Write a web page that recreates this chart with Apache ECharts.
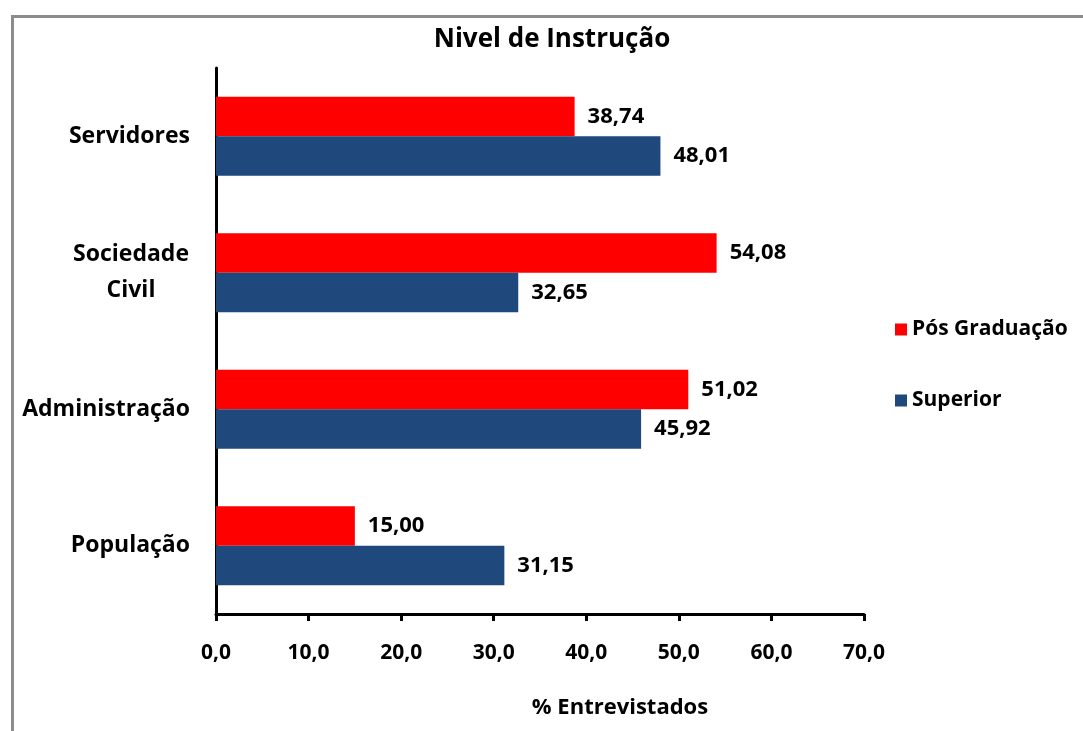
<!DOCTYPE html>
<html>
<head>
<meta charset="utf-8">
<script src="https://cdn.jsdelivr.net/npm/echarts@6/dist/echarts.min.js"></script>
<style>html,body{margin:0;padding:0;background:#fff}#c{width:1083px;height:731px}</style>
</head>
<body>
<div id="c"></div>
<script>
var categories = ['População', 'Administração', 'Sociedade Civil', 'Servidores'];
var seriesNames = ['Pós Graduação', 'Superior'];
var posGraduacao = [15.00, 51.02, 54.08, 38.74];
var superior = [31.15, 45.92, 32.65, 48.01];
var xTicks = [0, 10, 20, 30, 40, 50, 60, 70];

var FONT = 'Open Sans';
var chart = echarts.init(document.getElementById('c'));
function fmt(v){ return Number(v).toFixed(2).replace('.', ','); }
chart.setOption({
  animation: false,
  textStyle: { fontFamily: FONT },
  title: [
    { text: 'Nivel de Instrução', left: 547, top: 22, textAlign: 'center',
      textStyle: { fontFamily: FONT, fontWeight: 'bold', fontSize: 26, color: '#000' } },
    { text: '% Entrevistados', left: 615, top: 692, textAlign: 'center',
      textStyle: { fontFamily: FONT, fontWeight: 'bold', fontSize: 22, color: '#000' } }
  ],
  graphic: [
    { type: 'rect', left: 10, top: 14, shape: { width: 1200, height: 900 },
      style: { fill: 'none', stroke: '#8c8c8c', lineWidth: 3 }, silent: true }
  ],
  legend: {
    orient: 'vertical', left: 890, top: 314,
    data: seriesNames,
    itemWidth: 12, itemHeight: 12, itemGap: 50, icon: 'rect',
    textStyle: { fontFamily: FONT, fontWeight: 'bold', fontSize: 21, color: '#000' }
  },
  grid: { left: 216, right: 219, top: 68, bottom: 117, containLabel: false },
  xAxis: {
    type: 'value', min: 0, max: 70, interval: 10,
    axisLine: { show: true, lineStyle: { color: '#000', width: 3 } },
    axisTick: { show: true, length: 7, lineStyle: { color: '#000', width: 3 } },
    splitLine: { show: false },
    axisLabel: { margin: 29, fontFamily: FONT, fontWeight: 'bold', fontSize: 21, color: '#000',
      formatter: function(v){ return xTicks.indexOf(v) >= 0 ? v.toFixed(1).replace('.', ',') : ''; } }
  },
  yAxis: {
    type: 'category', data: categories,
    axisLine: { show: true, lineStyle: { color: '#000', width: 3 } },
    axisTick: { show: false },
    axisLabel: { margin: 26, fontFamily: FONT, fontWeight: 'bold', fontSize: 23, color: '#000',
      formatter: function(v){
        if (v === 'Sociedade Civil') return '{a|Sociedade}\n{a|Civil}';
        return v;
      },
      rich: { a: { width: 118, align: 'center', fontFamily: FONT, fontWeight: 'bold', fontSize: 23, color: '#000', lineHeight: 36 } }
    }
  },
  series: [
    { name: 'Pós Graduação', type: 'bar', data: posGraduacao, barGap: '0%', barCategoryGap: '42%',
      itemStyle: { color: '#FF0000' },
      label: { show: true, position: 'right', distance: 13, fontFamily: FONT, fontWeight: 'bold', fontSize: 22, color: '#000',
        formatter: function(p){ return fmt(p.value); } } },
    { name: 'Superior', type: 'bar', data: superior, barGap: '0%', barCategoryGap: '42%',
      itemStyle: { color: '#1F497D' },
      label: { show: true, position: 'right', distance: 13, fontFamily: FONT, fontWeight: 'bold', fontSize: 22, color: '#000',
        formatter: function(p){ return fmt(p.value); } } }
  ]
});
</script>
</body>
</html>
